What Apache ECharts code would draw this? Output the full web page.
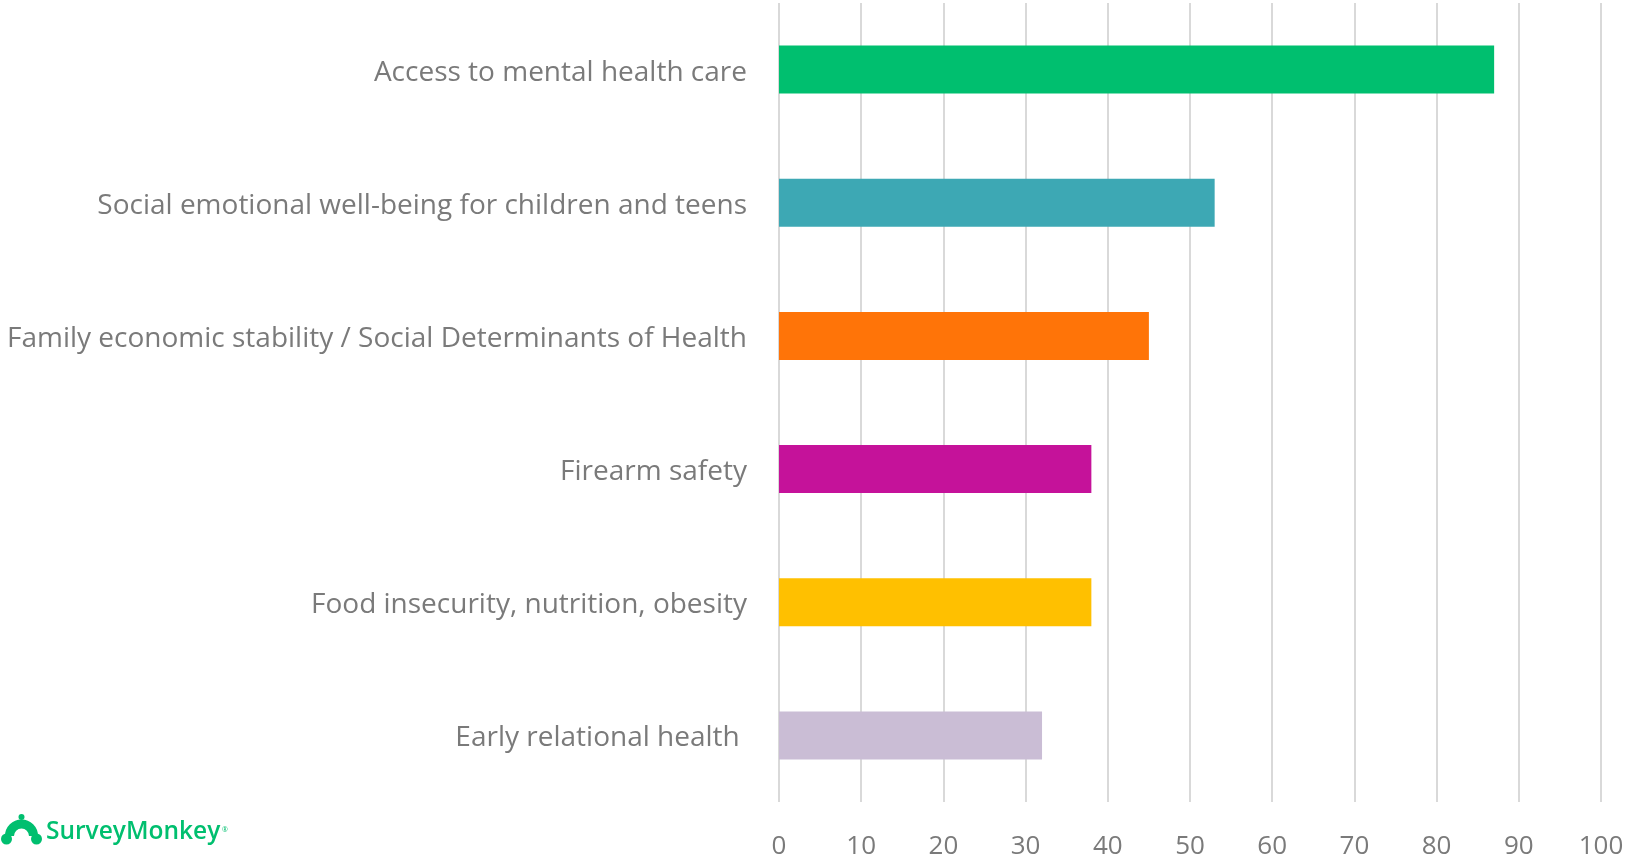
<!DOCTYPE html>
<html>
<head>
<meta charset="utf-8">
<script src="https://cdn.jsdelivr.net/npm/echarts@6/dist/echarts.min.js"></script>
<style>
html,body{margin:0;padding:0;background:#fff;}
#chart{width:1627px;height:860px;}
</style>
</head>
<body>
<div id="chart"></div>
<script>
var categories = [
  "Access to mental health care",
  "Social emotional well-being for children and teens",
  "Family economic stability / Social Determinants of Health",
  "Firearm safety",
  "Food insecurity, nutrition, obesity",
  "Early relational health "
];
var values = [87, 53, 45, 38, 38, 32];
var barColors = ["#00BF6F", "#3DA8B4", "#FF7408", "#C5129A", "#FFC000", "#CABDD5"];
var xTicks = [0, 10, 20, 30, 40, 50, 60, 70, 80, 90, 100];

var chart = echarts.init(document.getElementById('chart'));
var font = "'Open Sans', sans-serif";
chart.setOption({
  animation: false,
  backgroundColor: '#ffffff',
  grid: {left: 779, right: 26, top: 3, bottom: 57, containLabel: false},
  xAxis: {
    type: 'value', min: xTicks[0], max: xTicks[xTicks.length - 1], interval: 10,
    axisLine: {show: false}, axisTick: {show: false},
    splitLine: {show: true, lineStyle: {color: '#D9D9D9', width: 2}},
    axisLabel: {color: '#7A7A7A', fontSize: 26, fontFamily: font, margin: 32}
  },
  yAxis: {
    type: 'category', inverse: true, data: categories,
    axisLine: {show: false}, axisTick: {show: false},
    axisLabel: {
      margin: 32,
      formatter: function (v) { return '{c|' + v + '}'; },
      rich: {c: {color: '#7A7A7A', fontSize: 28, fontFamily: font, padding: [6, 0, 0, 0]}}
    }
  },
  series: [{
    type: 'bar', barWidth: 48,
    data: values.map(function (v, i) { return {value: v, itemStyle: {color: barColors[i]}}; })
  }],
  graphic: [
    {type: 'group', left: 1, top: 814, children: [
      {type: 'arc', shape: {cx: 20, cy: 24, r: 12, startAngle: Math.PI, endAngle: 0, clockwise: true}, style: {stroke: '#00BF6F', lineWidth: 9, fill: null}},
      {type: 'circle', shape: {cx: 5, cy: 27, r: 5.5}, style: {fill: '#00BF6F'}},
      {type: 'circle', shape: {cx: 35, cy: 27, r: 5.5}, style: {fill: '#00BF6F'}},
      {type: 'circle', shape: {cx: 20, cy: 5, r: 3}, style: {fill: '#00BF6F'}}
    ]},
    {type: 'text', left: 46, top: 820, style: {text: 'SurveyMonkey', fill: '#00BF6F', font: "600 24.5px 'Open Sans', sans-serif"}},
    {type: 'text', left: 222, top: 826, style: {text: '®', fill: '#00BF6F', font: "7px 'Open Sans', sans-serif"}}
  ]
});
</script>
</body>
</html>
